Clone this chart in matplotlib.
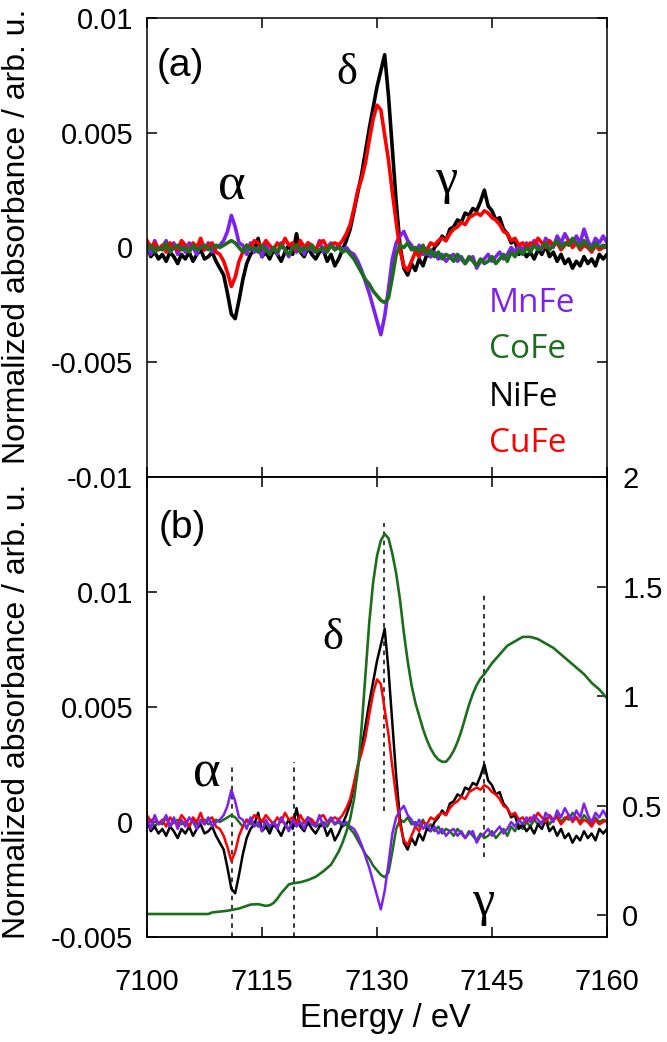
import numpy as np
import matplotlib
matplotlib.use("Agg")
import matplotlib.pyplot as plt

plt.rcParams["font.family"] = ["Liberation Sans", "DejaVu Sans"]
plt.rcParams["axes.unicode_minus"] = False

# ---- data ---------------------------------------------------------------
# difference spectra on a 0.5 eV grid, 7100 ... 7160 eV, values in 1e-3 units
energy = np.arange(7100.0, 7160.01, 0.5)

nife = [0.1, -0.4, -0.2, -0.5, -0.3, -0.6, -0.2, -0.4, -0.7, -0.3,
        -0.5, -0.2, -0.6, -0.3, -0.1, -0.5, -0.4, -0.2, -0.6, -0.9,
        -1.2, -2.0, -2.9, -3.1, -2.3, -1.4, -0.7, -0.3, -0.1, 0.4,
        -0.4, -0.2, -0.5, -0.1, -0.3, -0.6, -0.2, 0.1, -0.3, 0.6,
        -0.2, -0.4, 0.0, -0.3, -0.5, -0.2, -0.1, -0.6, -0.3, -0.8,
        -0.5, -0.1, 0.3, 0.8, 1.6, 2.4, 3.2, 4.2, 5.2, 6.1,
        7.0, 7.7, 8.4, 6.6, 4.3, 2.0, 0.1, -0.9, -1.2, -0.7,
        -1.0, -0.5, -0.8, -0.3, -0.4, 0.0, 0.2, 0.5, 0.3, 0.8,
        0.9, 1.2, 1.1, 1.5, 1.4, 1.7, 1.6, 2.0, 2.5, 1.8,
        1.6, 1.2, 1.3, 0.8, 0.6, 0.2, 0.3, -0.3, -0.1, -0.4,
        -0.2, -0.5, -0.1, -0.3, 0.1, -0.4, -0.2, -0.6, -0.3, -0.7,
        -0.5, -0.9, -0.6, -0.8, -0.4, -0.7, -0.5, -0.8, -0.3, -0.5,
        -0.3]

cufe = [0.3, 0.0, 0.2, -0.1, 0.1, -0.2, 0.2, 0.0, -0.1, 0.3,
        0.1, -0.2, 0.2, 0.0, 0.4, -0.1, 0.1, 0.2, -0.2, -0.3,
        -0.6, -1.1, -1.7, -1.3, -0.6, -0.2, 0.1, 0.0, 0.3, 0.2,
        0.0, 0.3, 0.1, -0.1, 0.2, 0.0, 0.4, 0.1, 0.2, -0.1,
        0.3, 0.0, 0.2, 0.1, -0.1, 0.2, 0.3, 0.0, 0.1, 0.2,
        0.1, 0.3, 0.6, 1.0, 1.7, 2.5, 3.0, 3.7, 4.7, 5.6,
        6.2, 6.0, 4.9, 3.8, 2.4, 1.1, -0.1, -0.8, -1.0, -0.6,
        -0.2, -0.4, 0.0, -0.1, 0.2, 0.1, 0.3, 0.4, 0.3, 0.6,
        0.8, 0.9, 1.1, 1.0, 1.3, 1.4, 1.5, 1.4, 1.6, 1.5,
        1.3, 1.2, 1.0, 0.7, 0.6, 0.3, 0.4, 0.1, 0.2, 0.0,
        0.2, 0.1, 0.4, 0.2, 0.0, 0.3, 0.1, 0.2, -0.1, 0.1,
        0.3, 0.0, 0.2, -0.1, 0.1, 0.0, -0.2, 0.1, -0.1, 0.0,
        0.1]

cofe = [-0.1, 0.1, -0.2, 0.0, -0.1, 0.2, -0.2, 0.0, 0.1, -0.1,
        0.0, -0.2, 0.1, -0.1, 0.0, 0.1, -0.1, 0.0, 0.1, 0.0,
        0.1, 0.2, 0.3, 0.2, 0.0, -0.2, 0.1, -0.1, 0.0, -0.2,
        0.1, -0.1, -0.3, 0.0, -0.2, 0.1, -0.1, -0.3, 0.0, 0.1,
        -0.2, 0.0, -0.1, 0.1, -0.2, -0.1, 0.0, -0.2, 0.1, -0.1,
        0.0, -0.2, -0.1, -0.3, -0.5, -0.8, -1.1, -1.4, -1.6, -1.9,
        -2.1, -2.3, -2.4, -2.2, -1.3, -0.3, 0.1, 0.0, 0.2, -0.1,
        0.0, -0.2, 0.1, -0.3, -0.1, -0.4, -0.2, -0.5, -0.3, -0.4,
        -0.6, -0.3, -0.5, -0.7, -0.4, -0.6, -0.8, -0.5, -0.7, -0.6,
        -0.4, -0.7, -0.5, -0.3, -0.6, -0.2, -0.4, -0.1, -0.3, 0.0,
        -0.2, 0.1, -0.1, 0.0, 0.2, -0.1, 0.1, 0.3, 0.0, 0.2,
        0.1, 0.4, 0.2, 0.0, 0.3, 0.1, -0.1, 0.2, 0.0, 0.1,
        0.0]

mnfe = [0.2, -0.3, 0.3, -0.1, 0.0, 0.3, -0.2, 0.2, -0.3, 0.1,
        -0.2, 0.2, 0.0, -0.3, 0.1, -0.1, 0.2, -0.2, 0.0, 0.1,
        0.3, 0.7, 1.4, 0.9, 0.2, 0.1, -0.3, 0.2, -0.2, 0.0,
        -0.4, 0.1, -0.2, 0.0, -0.3, 0.2, -0.1, -0.4, 0.1, -0.2,
        0.0, -0.3, 0.2, -0.1, -0.2, 0.3, -0.2, 0.0, 0.2, -0.1,
        0.1, -0.1, 0.0, -0.2, -0.3, -0.6, -1.0, -1.5, -2.0, -2.6,
        -3.2, -3.8, -3.0, -1.8, -0.5, 0.2, 0.5, 0.7, 0.3, 0.1,
        -0.2, 0.1, -0.3, -0.1, -0.4, -0.2, -0.5, -0.3, -0.6, -0.4,
        -0.3, -0.6, -0.4, -0.7, -0.5, -0.4, -0.9, -0.6, -0.5, -0.3,
        -0.6, -0.4, -0.2, -0.5, -0.3, 0.0, -0.2, 0.1, -0.1, 0.2,
        0.0, 0.3, 0.1, -0.1, 0.4, 0.2, 0.0, 0.5, 0.2, 0.6,
        0.3, 0.1, 0.5, 0.2, 0.8, 0.3, 0.0, 0.4, 0.2, 0.5,
        0.2]

# Fe K-edge XANES (right axis of panel b)
xanes_e = [7100, 7102, 7104, 7106, 7108, 7108.5, 7110.5, 7112, 7113.5, 7114.5,
           7115.5, 7116, 7116.5, 7117, 7117.5, 7118, 7118.5, 7119, 7120, 7121,
           7122, 7123, 7124, 7124.5, 7125, 7125.5, 7126, 7126.5, 7127, 7127.5,
           7128, 7128.5, 7129, 7129.5, 7130, 7130.5, 7131, 7131.5, 7132, 7132.5,
           7133, 7133.5, 7134, 7134.5, 7135, 7135.5, 7136, 7136.5, 7137, 7137.5,
           7138, 7138.5, 7139, 7139.5, 7140, 7140.5, 7141, 7141.5, 7142, 7142.5,
           7143, 7143.5, 7144, 7145, 7146, 7147, 7148, 7149, 7150, 7151,
           7152, 7153, 7154, 7155, 7156, 7157, 7158, 7159, 7160]
xanes_mu = [0.005, 0.005, 0.005, 0.005, 0.005, 0.012, 0.02, 0.03, 0.048, 0.05,
            0.042, 0.045, 0.055, 0.075, 0.1, 0.12, 0.14, 0.145, 0.15, 0.16,
            0.175, 0.2, 0.23, 0.26, 0.29, 0.33, 0.38, 0.44, 0.53, 0.66,
            0.86, 1.1, 1.34, 1.52, 1.64, 1.71, 1.74, 1.72, 1.65, 1.56,
            1.44, 1.29, 1.16, 1.05, 0.97, 0.91, 0.85, 0.8, 0.76, 0.73,
            0.71, 0.7, 0.7, 0.72, 0.75, 0.79, 0.84, 0.9, 0.96, 1.01,
            1.05, 1.08, 1.1, 1.15, 1.19, 1.23, 1.25, 1.27, 1.27, 1.26,
            1.24, 1.22, 1.19, 1.16, 1.13, 1.1, 1.06, 1.03, 0.99]

# dashed guide lines in panel (b): energy, lower end, upper end (1e-3 units)
guide_e = [7111.1, 7119.2, 7130.9, 7144.0]
guide_lo = [-5.0, -5.0, 0.5, -1.5]
guide_hi = [2.4, 2.6, 13.0, 9.9]

names = ["MnFe", "CoFe", "NiFe", "CuFe"]
colors = {"MnFe": "#7d22ee", "CoFe": "#1c6e1c", "NiFe": "#000000", "CuFe": "#ff0000"}
series = {"MnFe": mnfe, "CoFe": cofe, "NiFe": nife, "CuFe": cufe}

xticks = [7100, 7115, 7130, 7145, 7160]
yticks_a = [-0.01, -0.005, 0, 0.005, 0.01]
yticks_b = [-0.005, 0, 0.005, 0.01]
yticks_r = [0, 0.5, 1, 1.5, 2]

# ---- figure -------------------------------------------------------------
W, H = 667, 1042
fig = plt.figure(figsize=(W / 100, H / 100), dpi=100)
ax_a = fig.add_axes([147 / W, 565 / H, 460 / W, 459 / H])
ax_b = fig.add_axes([147 / W, 105 / H, 460 / W, 460 / H])
ax_r = ax_b.twinx()

for ax in (ax_a, ax_b, ax_r):
    for s in ax.spines.values():
        s.set_linewidth(1.1)

fmt = matplotlib.ticker.FormatStrFormatter("%g")
serif = ["Liberation Serif", "DejaVu Serif"]

# panel (a)
for n in ["NiFe", "MnFe", "CuFe", "CoFe"]:
    ax_a.plot(energy, np.array(series[n]) * 1e-3, color=colors[n], lw=2.6)
ax_a.set_xlim(7100, 7160)
ax_a.set_ylim(-0.01, 0.01)
ax_a.set_xticks(xticks)
ax_a.set_yticks(yticks_a)
ax_a.yaxis.set_major_formatter(fmt)
ax_a.tick_params(direction="in", length=7, width=1.1, top=True, right=True,
                 labelbottom=False, labelsize=21, pad=10)
ax_a.text(0.072, 0.895, "(a)", transform=ax_a.transAxes, fontsize=28,
          ha="center", va="center")
for y, n in zip([0.379, 0.277, 0.174, 0.074], names):
    ax_a.text(0.744, y, n, transform=ax_a.transAxes, color=colors[n],
              fontsize=24, family="Open Sans", ha="left", va="center")

ax_a.text(7111.0, 0.00266, "α", family=serif, fontsize=38, ha="center", va="center")
ax_a.text(7126.0, 0.0076, "δ", family=serif, fontsize=32, ha="center", va="center")
ax_a.text(7139.0, 0.0029, "γ", family=serif, fontsize=36, ha="center", va="center")

# panel (b)
ax_b.vlines(guide_e, np.array(guide_lo) * 1e-3, np.array(guide_hi) * 1e-3,
            colors="black", lw=1.1, linestyles=(0, (3, 3)), zorder=1)
for n in ["CoFe", "NiFe", "CuFe", "MnFe"]:
    ax_b.plot(energy, np.array(series[n]) * 1e-3, color=colors[n], lw=1.8, zorder=2)
ax_b.set_xlim(7100, 7160)
ax_b.set_ylim(-0.005, 0.015)
ax_b.set_xticks(xticks)
ax_b.set_yticks(yticks_b)
ax_b.yaxis.set_major_formatter(fmt)
ax_b.tick_params(axis="both", direction="in", length=7, width=1.1, top=True,
                 right=False, labelsize=21)
ax_b.tick_params(axis="y", pad=10)
ax_b.tick_params(axis="x", pad=22)
ax_b.text(0.076, 0.889, "(b)", transform=ax_b.transAxes, fontsize=28,
          ha="center", va="center")
ax_b.text(7107.8, 0.0021, "α", family=serif, fontsize=38, ha="center", va="center")
ax_b.text(7124.3, 0.0080, "δ", family=serif, fontsize=32, ha="center", va="center")
ax_b.text(7143.8, -0.0035, "γ", family=serif, fontsize=36, ha="center", va="center")

ax_r.plot(xanes_e, xanes_mu, color="#1c6e1c", lw=1.9)
ax_r.set_ylim(-0.1, 2.0)
ax_r.set_yticks(yticks_r)
ax_r.yaxis.set_major_formatter(fmt)
ax_r.tick_params(direction="in", length=7, width=1.1, labelsize=21, pad=11)

# axis labels
ylab = "Normalized absorbance / arb. u."
fig.text(17 / W, 1 - 236 / H, ylab, rotation=90, fontsize=23, ha="center", va="center")
fig.text(17 / W, 1 - 711 / H, ylab, rotation=90, fontsize=23, ha="center", va="center")
fig.text(385 / W, 1 - 1018 / H, "Energy / eV", fontsize=23.5, ha="center", va="center")

fig.savefig("out.png", dpi=100)
